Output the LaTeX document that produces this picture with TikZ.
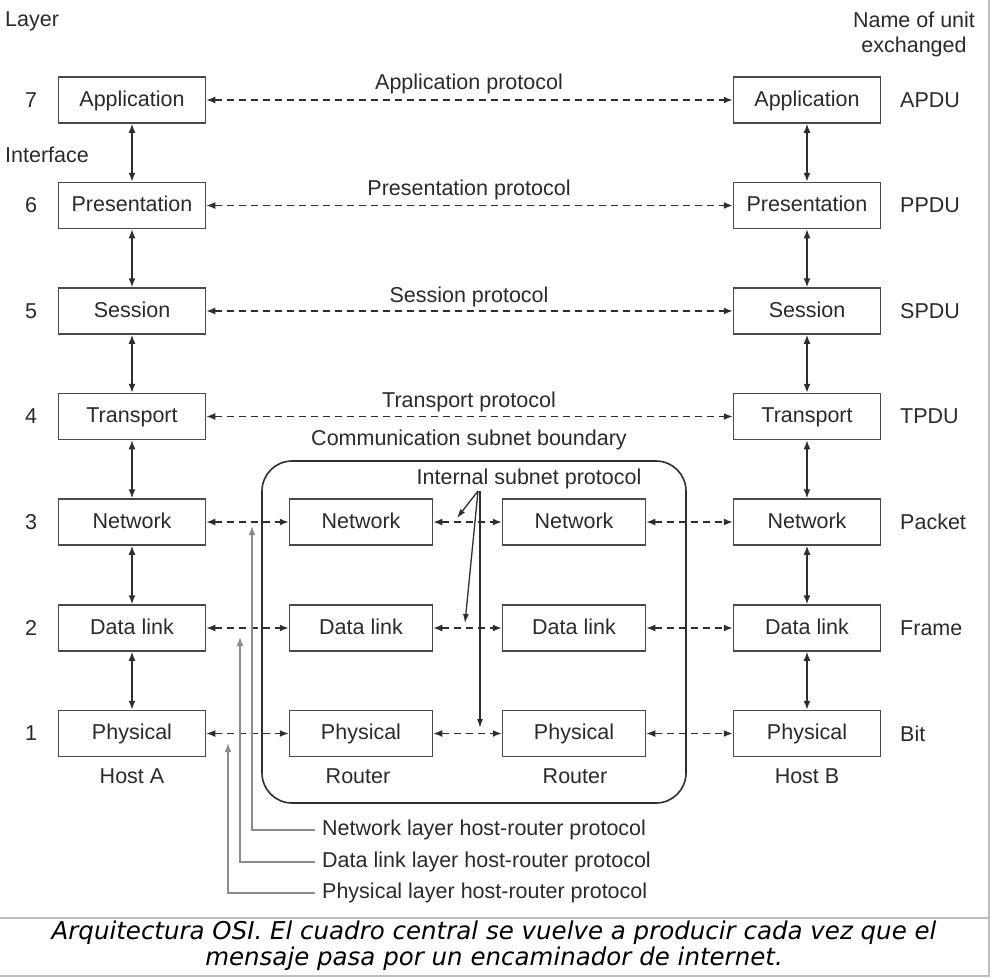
\documentclass[tikz,border=0pt]{standalone}
\usepackage{fontspec}
\setmainfont{Liberation Sans}
\newfontfamily\capfont{DejaVu Sans}
\usetikzlibrary{arrows.meta}
\definecolor{boxc}{HTML}{4A4A4A}
\definecolor{linec}{HTML}{2E2E2E}
\definecolor{txtc}{HTML}{2A2A2A}
\definecolor{hrc}{HTML}{8C8C8C}
\definecolor{framec}{HTML}{BDBDBD}
\begin{document}
\begin{tikzpicture}[x=1pt,y=-1pt,
  box/.style={draw=boxc, line width=1.5pt, minimum width=147pt, minimum height=46pt, inner sep=0pt, font=\fontsize{21.5}{25}\selectfont, text=txtc, text height=15.5pt, text depth=3.5pt},
  rbox/.style={box, minimum width=143pt},
  lbl/.style={font=\fontsize{21.5}{25}\selectfont, text=txtc, inner sep=0pt},
  tipA/.style={{Latex[length=9pt,width=7pt]}-{Latex[length=9pt,width=7pt]}},
  dbl/.style={tipA, line width=1.5pt, draw=linec},
  dsh/.style={dbl, dash pattern=on 7pt off 5pt},
  pt/.style={line width=1.3pt, draw=linec, -{Latex[length=9pt,width=6pt]}},
  hr/.style={line width=1.6pt, draw=hrc, -{Latex[length=9pt,width=7pt]}},
]
\useasboundingbox (0,0) rectangle (1000,978);
% frame
\draw[framec, line width=2pt] (989,0) -- (989,976) -- (0,976);
\draw[framec, line width=2pt] (0,918) -- (989,918);

% left column
\node[box] (L7) at (132,100) {Application};
\node[box] (L6) at (132,205.5) {Presentation};
\node[box] (L5) at (132,311) {Session};
\node[box] (L4) at (132,416.5) {Transport};
\node[box] (L3) at (132,522) {Network};
\node[box] (L2) at (132,628) {Data link};
\node[box] (L1) at (132,733.5) {Physical};
% right column
\node[box] (R7) at (807,100) {Application};
\node[box] (R6) at (807,205.5) {Presentation};
\node[box] (R5) at (807,311) {Session};
\node[box] (R4) at (807,416.5) {Transport};
\node[box] (R3) at (807,522) {Network};
\node[box] (R2) at (807,628) {Data link};
\node[box] (R1) at (807,733.5) {Physical};
% routers
\node[rbox] (A3) at (361,522) {Network};
\node[rbox] (A2) at (361,628) {Data link};
\node[rbox] (A1) at (361,733.5) {Physical};
\node[rbox] (B3) at (574,522) {Network};
\node[rbox] (B2) at (574,628) {Data link};
\node[rbox] (B1) at (574,733.5) {Physical};

% subnet boundary
\draw[linec, line width=1.6pt, rounded corners=30pt] (262,461) rectangle (686,803);
\node[lbl] (csb) at (469,440) {Communication subnet boundary};

% vertical interfaces
\foreach \a/\b in {7/6,6/5,5/4,4/3,3/2,2/1}{
  \draw[dbl] (L\a.south) -- (L\b.north);
  \draw[dbl] (R\a.south) -- (R\b.north);
}

% peer protocols
\draw[dsh] (L7.east) -- (R7.west);
\draw[dsh] (L6.east) -- (R6.west);
\draw[dsh] (L5.east) -- (R5.west);
\draw[dsh] (L4.east) -- (R4.west);
\node[lbl] (p7) at (469,84) {Application protocol};
\node[lbl] (p6) at (469,190) {Presentation protocol};
\node[lbl] (p5) at (469,297) {Session protocol};
\node[lbl] (p4) at (469,402) {Transport protocol};

\foreach \r in {3,2,1}{
  \draw[dsh] (L\r.east) -- (A\r.west);
  \draw[dsh] (A\r.east) -- (B\r.west);
  \draw[dsh] (B\r.east) -- (R\r.west);
}

% internal subnet protocol
\node[lbl] (isp) at (529,479) {Internal subnet protocol};
\coordinate (is0) at (478,491);
\coordinate (is1) at (457,518);
\coordinate (is2) at (465,623);
\coordinate (is3) at (480,728);
\draw[pt] (is0) -- (is1);
\draw[pt] (is0) -- (is2);
\draw[pt] ([xshift=2pt]is0) -- (is3);

% host-router protocols
\coordinate (h3a) at (315,830); \coordinate (h3b) at (252,526);
\coordinate (h2a) at (315,862); \coordinate (h2b) at (240,637);
\coordinate (h1a) at (315,893); \coordinate (h1b) at (228,743);
\draw[hr] (h3a) -| (h3b);
\draw[hr] (h2a) -| (h2b);
\draw[hr] (h1a) -| (h1b);
\node[lbl, anchor=west] (t3) at (322,830) {Network layer host-router protocol};
\node[lbl, anchor=west] (t2) at (322,862) {Data link layer host-router protocol};
\node[lbl, anchor=west] (t1) at (322,893) {Physical layer host-router protocol};

% side labels
\node[lbl, anchor=west] (layer) at (5,21) {Layer};
\node[lbl, anchor=west] (iface) at (5,155) {Interface};
\foreach \n/\y in {7/100,6/205.5,5/311,4/416.5,3/522,2/628,1/733.5}{
  \node[lbl] (n\n) at (31,\y) {\n};
}
\node[lbl, align=center] (nu) at (914,34) {Name of unit\\exchanged};
\node[lbl, anchor=west] (u7) at (900,100) {APDU};
\node[lbl, anchor=west] (u6) at (900,205.5) {PPDU};
\node[lbl, anchor=west] (u5) at (900,311) {SPDU};
\node[lbl, anchor=west] (u4) at (900,416.5) {TPDU};
\node[lbl, anchor=west] (u3) at (900,522) {Packet};
\node[lbl, anchor=west] (u2) at (900,628) {Frame};
\node[lbl, anchor=west] (u1) at (900,733.5) {Bit};

\node[lbl] (ha) at (132,776) {Host A};
\node[lbl] (ra) at (358,776) {Router};
\node[lbl] (rb) at (575,776) {Router};
\node[lbl] (hb) at (807,776) {Host B};

% caption
\node[font=\capfont\itshape\fontsize{24.5}{26}\selectfont, align=center, inner sep=0pt] (cap) at (494,946)
  {Arquitectura OSI. El cuadro central se vuelve a producir cada vez que el\\mensaje pasa por un encaminador de internet.};
\end{tikzpicture}
\end{document}
